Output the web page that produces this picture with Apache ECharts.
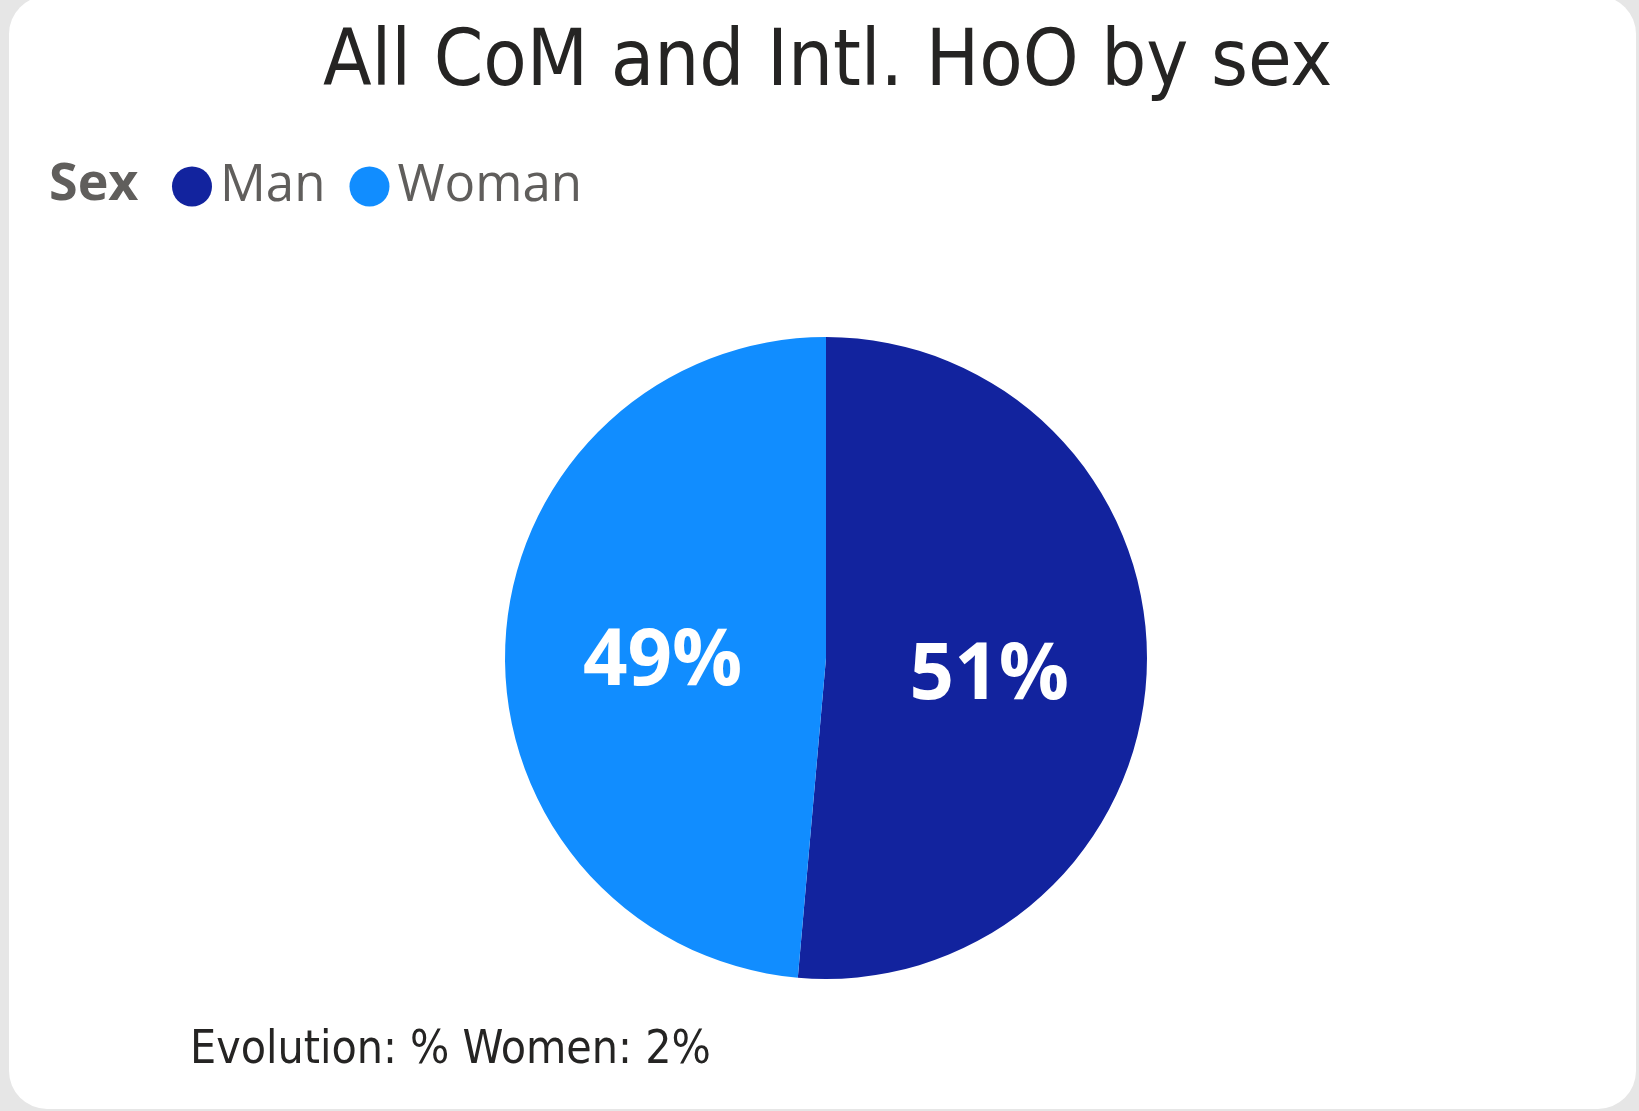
<!DOCTYPE html>
<html>
<head>
<meta charset="utf-8">
<script src="https://cdn.jsdelivr.net/npm/echarts@6/dist/echarts.min.js"></script>
<style>
  html, body { margin: 0; padding: 0; background: #E6E6E6; }
  .card {
    position: absolute; left: 9px; top: -4px; width: 1627px; height: 1113px;
    background: #FFFFFF; border-radius: 38px;
  }
  #chart { position: absolute; left: 0; top: 0; width: 1639px; height: 1111px; }
</style>
</head>
<body>
<div class="card"></div>
<div id="chart"></div>
<script>
const SEX_CATEGORIES = ['Man', 'Woman']
const SEX_SHARES = [51.4, 48.6]
const EVOLUTION_WOMEN_PCT = 2

const MAN_COLOR = '#12239E'
const WOMAN_COLOR = '#118DFF'
const TITLE_FONT = '"DejaVu Sans Condensed", "Liberation Sans Narrow", "DejaVu Sans", sans-serif'
const BODY_FONT = '"Open Sans", "Noto Sans", sans-serif'

const chart = echarts.init(document.getElementById('chart'))
chart.setOption({
  animation: false,
  backgroundColor: 'transparent',
  title: [
    {
      text: 'All CoM and Intl. HoO by sex',
      left: 318,
      top: 20,
      textStyle: { fontFamily: TITLE_FONT, fontSize: 79, fontWeight: 'normal', color: '#252423' },
    },
    {
      text: 'Sex',
      left: 44,
      top: 154,
      textStyle: { fontFamily: BODY_FONT, fontSize: 52, fontWeight: 'bold', color: '#605E5C' },
    },
    {
      text: `Evolution: % Women: ${EVOLUTION_WOMEN_PCT}%`,
      left: 185,
      top: 1023,
      textStyle: { fontFamily: TITLE_FONT, fontSize: 46, fontWeight: 'normal', color: '#252423' },
    },
  ],
  legend: {
    data: SEX_CATEGORIES,
    left: 167,
    top: 156,
    icon: 'circle',
    itemWidth: 40,
    itemHeight: 40,
    itemGap: 24,
    textStyle: { fontFamily: BODY_FONT, fontSize: 51, color: '#605E5C', padding: [0, 0, 0, 3] },
  },
  series: [
    {
      type: 'pie',
      center: [826, 658],
      radius: 321,
      startAngle: 90,
      clockwise: true,
      silent: true,
      data: SEX_CATEGORIES.map((name, i) => ({
        name,
        value: SEX_SHARES[i],
        itemStyle: { color: i === 0 ? MAN_COLOR : WOMAN_COLOR },
      })),
      label: {
        show: true,
        position: 'inside',
        formatter: (p) => `{v|${Math.round(p.percent)}%}`,
        rich: {
          v: {
            fontFamily: BODY_FONT,
            fontWeight: 'bold',
            fontSize: 78,
            color: '#FFFFFF',
            padding: [24, 0, 0, 0],
          },
        },
      },
      labelLine: { show: false },
      itemStyle: { borderWidth: 0 },
    },
  ],
})
</script>
</body>
</html>
